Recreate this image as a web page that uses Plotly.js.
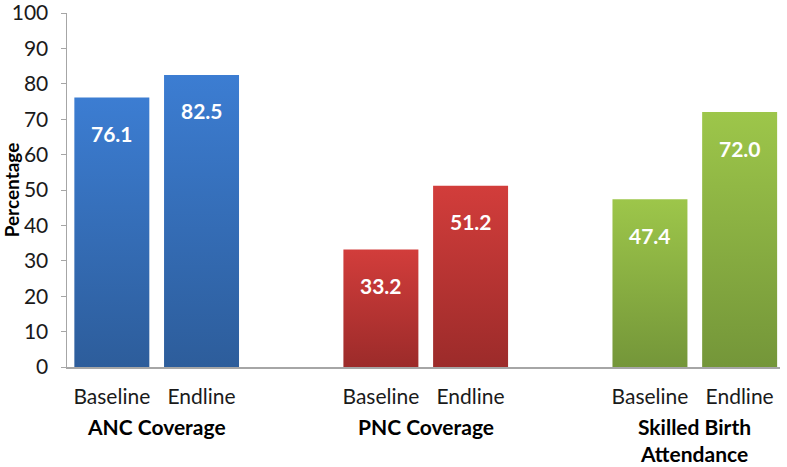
<!DOCTYPE html>
<html>
<head>
<meta charset="utf-8">
<script src="https://cdn.plot.ly/plotly-3.0.1.min.js"></script>
<style>
  html, body { margin: 0; padding: 0; background: #fff; }
  #chart { width: 787px; height: 467px; }
</style>
</head>
<body>
<div id="chart"></div>
<script>
// values
const groups = ['ANC Coverage', 'PNC Coverage', 'Skilled Birth<br>Attendance']
const phases = ['Baseline', 'Endline']
const baseline = [76.1, 33.2, 47.4]
const endline = [82.5, 51.2, 72.0]

// one colour pair (top, bottom) per group
const gradColors = [
    ['#3c7dd2', '#2d5d9b'],
    ['#d23d3b', '#9c2b2a'],
    ['#9dc64a', '#749639'],
]

const FONT = 'Lato, "Open Sans", sans-serif'

// each group takes two slots, then an empty one
const xs = [], ys = [], colors = [], labels = []
groups.forEach((g, i) => {
    [baseline[i], endline[i]].forEach((v, j) => {
        xs.push(3 * i + j)
        ys.push(v)
        colors.push(gradColors[i][0])
        labels.push(phases[j])
    })
})

const trace = {
    type: 'bar',
    x: xs,
    y: ys,
    width: 0.836,
    marker: {color: colors, line: {width: 0}},
    hoverinfo: 'skip',
}

const annotations = []
xs.forEach((x, k) => {
    annotations.push({
        x: x, y: ys[k], xref: 'x', yref: 'y',
        text: '<b>' + ys[k].toFixed(1) + '</b>',
        showarrow: false, yanchor: 'middle', yshift: -36,
        font: {family: FONT, size: 21, color: '#ffffff'},
    })
})
groups.forEach((g, i) => {
    annotations.push({
        x: 3 * i + 0.5, y: 0, xref: 'x', yref: 'paper',
        text: '<b>' + g + '</b>',
        showarrow: false, yanchor: 'top', yshift: -46,
        borderpad: 0,
        font: {family: FONT, size: 21, color: '#000000'},
    })
})

const layout = {
    width: 787,
    height: 467,
    margin: {l: 67, r: 7, t: 13, b: 100, pad: 0},
    paper_bgcolor: '#ffffff',
    plot_bgcolor: '#ffffff',
    showlegend: false,
    font: {family: FONT, size: 21, color: '#1a1a1a'},
    xaxis: {
        range: [-0.5, 7.45],
        tickvals: xs,
        ticktext: labels,
        showgrid: false,
        zeroline: false,
        showline: true,
        linecolor: '#a6a6a6',
        linewidth: 1.5,
        ticks: '',
        ticklabelstandoff: 10,
        tickfont: {family: FONT, size: 21, color: '#1a1a1a'},
        fixedrange: true,
    },
    yaxis: {
        range: [0, 100],
        dtick: 10,
        showgrid: false,
        zeroline: false,
        showline: true,
        linecolor: '#a6a6a6',
        linewidth: 1.5,
        ticks: 'outside',
        ticklen: 5,
        tickcolor: '#a6a6a6',
        ticklabelstandoff: 8,
        ticklabeloverflow: 'allow',
        tickfont: {family: FONT, size: 21, color: '#1a1a1a'},
        title: {text: '<b>Percentage</b>', font: {family: FONT, size: 19, color: '#000000'}, standoff: 2},
        fixedrange: true,
    },
    annotations: annotations,
}

Plotly.newPlot('chart', [trace], layout, {displayModeBar: false, staticPlot: true}).then(gd => {
    // vertical gradient fill on each bar, like the original
    const svgNS = 'http://www.w3.org/2000/svg'
    const defs = gd.querySelector('.main-svg defs')
    gradColors.forEach((c, i) => {
        const lg = document.createElementNS(svgNS, 'linearGradient')
        lg.setAttribute('id', 'barGrad' + i)
        lg.setAttribute('x1', '0'); lg.setAttribute('y1', '0')
        lg.setAttribute('x2', '0'); lg.setAttribute('y2', '1')
        ;[[0, c[0]], [1, c[1]]].forEach(([o, col]) => {
            const st = document.createElementNS(svgNS, 'stop')
            st.setAttribute('offset', o)
            st.setAttribute('stop-color', col)
            lg.appendChild(st)
        })
        defs.appendChild(lg)
    })
    gd.querySelectorAll('.bars .point path').forEach((p, k) => {
        p.style.fill = 'url(#barGrad' + Math.floor(k / 2) + ')'
    })
})
</script>
</body>
</html>
